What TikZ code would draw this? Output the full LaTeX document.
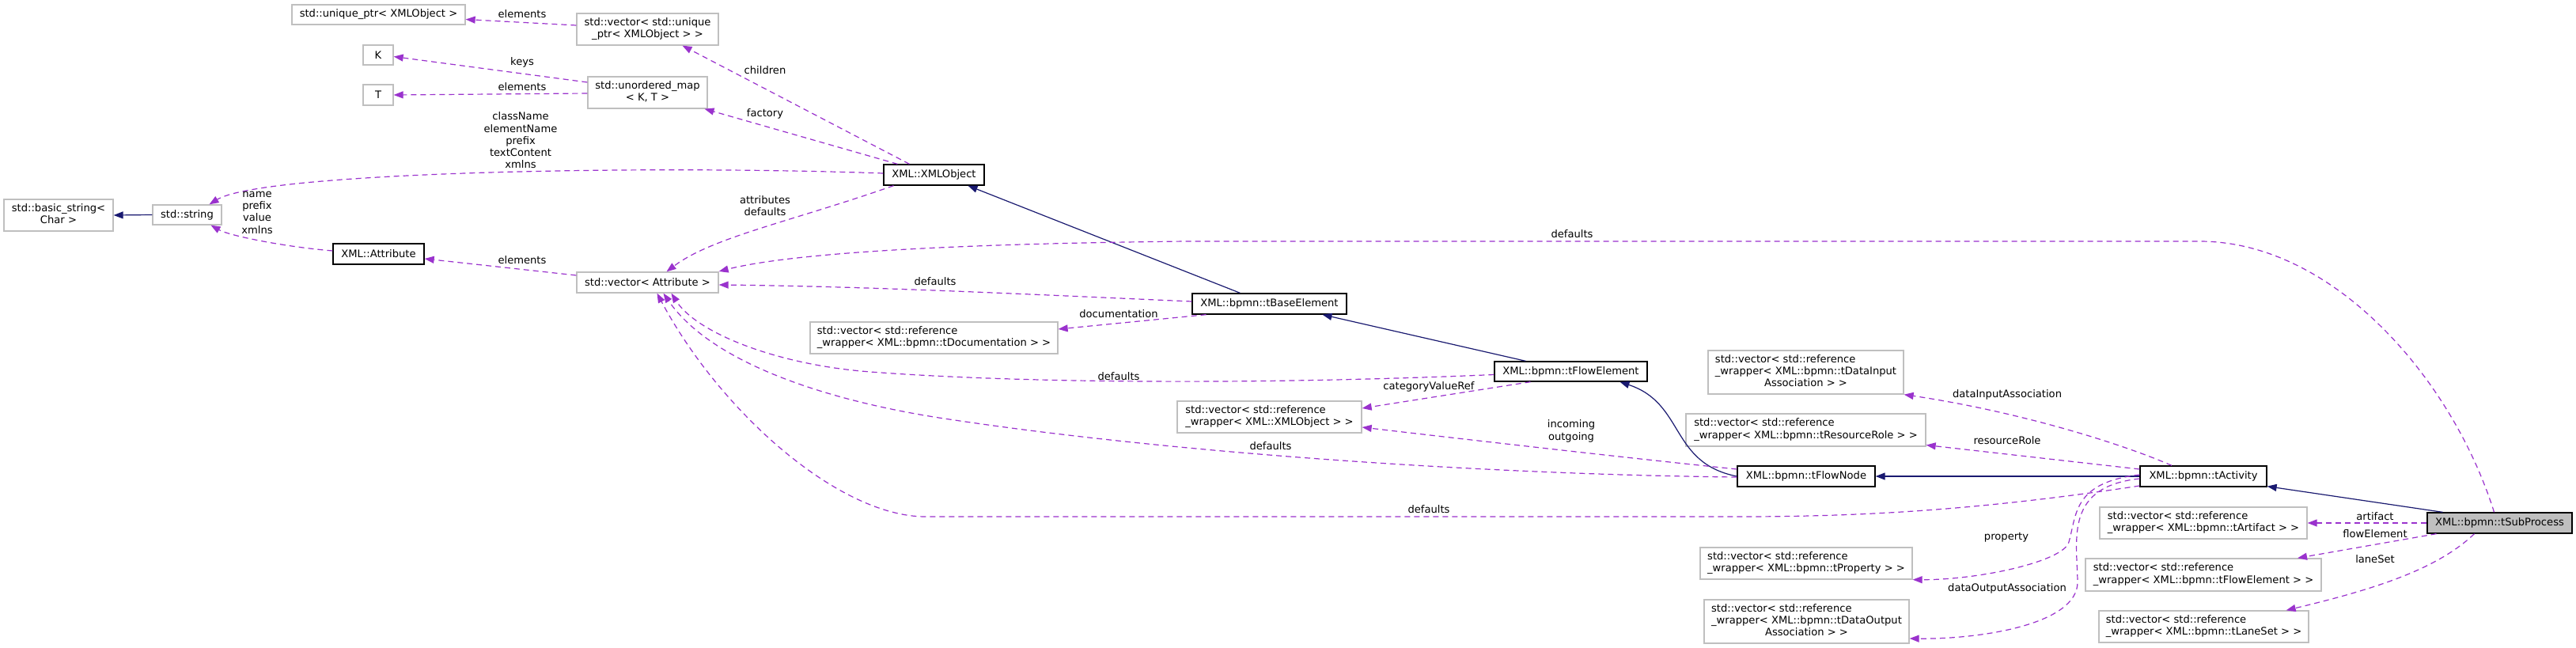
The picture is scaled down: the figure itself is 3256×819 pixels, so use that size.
\documentclass[tikz,border=0pt]{standalone}
\usepackage{fontspec}
\setmainfont{DejaVu Sans}
\usetikzlibrary{arrows.meta,calc}
\definecolor{dorch}{HTML}{9A32CD}
\definecolor{mblue}{HTML}{191970}
\definecolor{lgray}{HTML}{BFBFBF}
\newcommand{\fnt}{\fontsize{13.1}{15.3}\selectfont}
\newcommand{\twol}[2]{\begin{tabular}{@{}l@{}}#1\\\multicolumn{1}{@{}c@{}}{#2}\end{tabular}}
\newcommand{\threel}[3]{\begin{tabular}{@{}l@{}}#1\\#2\\\multicolumn{1}{@{}c@{}}{#3}\end{tabular}}
\begin{document}
\begin{tikzpicture}[x=1pt,y=-1pt,
  box/.style={draw=lgray, line width=1.3pt, fill=white, rectangle, inner sep=0pt, font=\fnt},
  cls/.style={box, draw=black},
  cur/.style={cls, fill=lgray},
  dep/.style={draw=dorch, line width=1.2pt, dash pattern=on 7pt off 5pt, -{Triangle[length=12pt,width=9pt]}},
  inh/.style={draw=mblue, line width=1.2pt, -{Triangle[length=12pt,width=9pt]}},
  lab/.style={inner sep=0pt, font=\fnt, align=center}]
\useasboundingbox[fill=white] (0,0) rectangle (3256,819);

% nodes
\node[box, minimum width=219pt, minimum height=25pt] (uptr) at (478.5,18.5) {std::unique\_ptr< XMLObject >};
\node[box, minimum width=179pt, minimum height=40pt] (vuptr) at (818.5,37) {\twol{std::vector< std::unique}{\_ptr< XMLObject > >}};
\node[box, minimum width=38pt, minimum height=25pt] (K) at (478,69.5) {K};
\node[box, minimum width=38pt, minimum height=26pt] (T) at (478,120) {T};
\node[box, minimum width=151pt, minimum height=40pt] (umap) at (818.5,117) {\twol{std::unordered\_map}{< K, T >}};
\node[cls, minimum width=127pt, minimum height=26pt] (xmlobj) at (1180.5,221) {XML::XMLObject};
\node[box, minimum width=138pt, minimum height=40pt] (bstr) at (74,272) {\twol{std::basic\_string<}{Char >}};
\node[box, minimum width=87pt, minimum height=25pt] (str) at (236.5,271.5) {std::string};
\node[cls, minimum width=115pt, minimum height=26pt] (attr) at (478.5,321) {XML::Attribute};
\node[box, minimum width=179pt, minimum height=26pt] (vattr) at (818.5,357) {std::vector< Attribute >};
\node[cls, minimum width=195pt, minimum height=26pt] (tbase) at (1604.5,384) {XML::bpmn::tBaseElement};
\node[box, minimum width=313pt, minimum height=40pt] (vdoc) at (1180.5,427) {\twol{std::vector< std::reference}{\_wrapper< XML::bpmn::tDocumentation > >}};
\node[cls, minimum width=193pt, minimum height=25pt] (tflowel) at (1985.5,469.5) {XML::bpmn::tFlowElement};
\node[box, minimum width=233pt, minimum height=40pt] (vxref) at (1604.5,527) {\twol{std::vector< std::reference}{\_wrapper< XML::XMLObject > >}};
\node[cls, minimum width=174pt, minimum height=26pt] (tflownode) at (2283,602) {XML::bpmn::tFlowNode};
\node[cls, minimum width=160pt, minimum height=26pt] (tact) at (2785,602) {XML::bpmn::tActivity};
\node[cur, minimum width=183pt, minimum height=26pt] (tsub) at (3159.5,661) {XML::bpmn::tSubProcess};
\node[box, minimum width=247pt, minimum height=55pt] (vdin) at (2282.5,470.5) {\threel{std::vector< std::reference}{\_wrapper< XML::bpmn::tDataInput}{Association > >}};
\node[box, minimum width=303pt, minimum height=41pt] (vres) at (2282.5,543.5) {\twol{std::vector< std::reference}{\_wrapper< XML::bpmn::tResourceRole > >}};
\node[box, minimum width=268pt, minimum height=40pt] (vprop) at (2283,712) {\twol{std::vector< std::reference}{\_wrapper< XML::bpmn::tProperty > >}};
\node[box, minimum width=259pt, minimum height=55pt] (vdout) at (2283.5,785.5) {\threel{std::vector< std::reference}{\_wrapper< XML::bpmn::tDataOutput}{Association > >}};
\node[box, minimum width=262pt, minimum height=40pt] (vart) at (2785,661) {\twol{std::vector< std::reference}{\_wrapper< XML::bpmn::tArtifact > >}};
\node[box, minimum width=298pt, minimum height=41pt] (vfel) at (2785,726.5) {\twol{std::vector< std::reference}{\_wrapper< XML::bpmn::tFlowElement > >}};
\node[box, minimum width=265pt, minimum height=40pt] (vlane) at (2785.5,792) {\twol{std::vector< std::reference}{\_wrapper< XML::bpmn::tLaneSet > >}};

% inheritance
\draw[inh] (str.west) -- (bstr.east);
\draw[inh] ($(tbase.north)+(-37,0)$) -- ($(xmlobj.south)+(43,0)$);
\draw[inh] ($(tflowel.north)+(-57,0)$) -- ($(tbase.south)+(67,0)$);
\draw[inh] (tflownode.west) .. controls (2110,585) and (2130,510) .. ($(tflowel.south)+(62,0)$);
\draw[inh] (tact.west) -- (tflownode.east);
\draw[inh] ($(tsub.north)+(-72,0)$) -- ($(tact.south east)+(0,-1)$);

% dependencies
\draw[dep] ($(vuptr.west)+(0,-5)$) -- ($(uptr.east)+(0,6)$);
\draw[dep] ($(xmlobj.north)+(-31,0)$) -- ($(vuptr.south)+(44,0)$);
\draw[dep] ($(xmlobj.north)+(-46,0)$) -- ($(umap.south)+(72,0)$);
\draw[dep] ($(umap.west)+(0,-13)$) -- ($(K.east)+(0,2)$);
\draw[dep] ($(umap.west)+(0,1)$) -- (T.east);
\draw[dep] ($(xmlobj.west)+(0,-2)$) .. controls (800,208) and (330,218) .. ($(str.north)+(28,0)$);
\draw[dep] ($(attr.west)+(0,-4)$) .. controls (360,312) and (290,298) .. ($(str.south)+(30,0)$);
\draw[dep] ($(vattr.west)+(0,-9)$) -- ($(attr.east)+(0,6)$);
\draw[dep] ($(xmlobj.south)+(-51,0)$) .. controls (1000,280) and (900,300) .. ($(vattr.north)+(24,0)$);
\draw[dep] ($(tsub.north)+(-7,0)$) .. controls (3100,480) and (2950,305) .. (2780,305) -- (1500,305)
   .. controls (1200,308) and (1000,320) .. ($(vattr.east)+(0,-14)$);
\draw[dep] ($(tbase.west)+(0,-3)$) .. controls (1300,372) and (1100,362) .. ($(vattr.east)+(0,3)$);
\draw[dep] ($(tbase.south)+(-80,0)$) -- ($(vdoc.east)+(0,-11)$);
\draw[dep] ($(tflowel.west)+(0,4)$) .. controls (1600,486) and (1300,485) .. (1100,470)
   .. controls (980,461) and (880,420) .. ($(vattr.south)+(30,0)$);
\draw[dep] ($(tflownode.west)+(0,1)$) .. controls (1900,600) and (1500,575) .. (1200,530)
   .. controls (1050,508) and (900,460) .. ($(vattr.south)+(20,0)$);
\draw[dep] ($(tact.west)+(0,12)$) .. controls (2500,645) and (2350,653) .. (2200,653) -- (1170,653)
   .. controls (1060,653) and (910,520) .. ($(vattr.south)+(12,0)$);
\draw[dep] ($(tflowel.south)+(-51,0)$) -- ($(vxref.east)+(0,-11)$);
\draw[dep] ($(tflownode.west)+(0,-9)$) .. controls (2050,578) and (1850,555) .. ($(vxref.east)+(0,13)$);
\draw[dep] ($(tact.north)+(-40,0)$) .. controls (2680,560) and (2550,520) .. (vdin.south east);
\draw[dep] ($(tact.west)+(0,-9)$) -- ($(vres.east)+(0,19)$);
\draw[dep] ($(tact.west)+(0,-2)$) .. controls (2620,610) and (2625,650) .. (2615,685)
   .. controls (2608,710) and (2500,733) .. (vprop.south east);
\draw[dep] ($(tact.west)+(0,3)$) .. controls (2610,615) and (2625,680) .. (2626,735)
   .. controls (2627,790) and (2500,808) .. ($(vdout.east)+(0,21.5)$);
\draw[dep] (tsub.west) -- (vart.east);
\draw[dep] ($(tsub.south)+(-80,0)$) -- ($(vfel.north)+(119,0)$);
\draw[dep] ($(tsub.south)+(-32,0)$) .. controls (3080,720) and (3000,745) .. ($(vlane.north east)+(-29,0)$);

% labels
\node[lab] (l1) at (660,18) {elements};
\node[lab] (l2) at (660,79) {keys};
\node[lab] (l3) at (660,110) {elements};
\node[lab] (l4) at (967,89) {children};
\node[lab] (l5) at (967,144) {factory};
\node[lab] (l6) at (658,177.5) {className\\elementName\\prefix\\textContent\\xmlns};
\node[lab] (l7) at (325,268.5) {name\\prefix\\value\\xmlns};
\node[lab] (l8) at (967,260) {attributes\\defaults};
\node[lab] (l9) at (660,329) {elements};
\node[lab] (l10) at (1182,356) {defaults};
\node[lab] (l11) at (1987,296) {defaults};
\node[lab] (l12) at (1414,397) {documentation};
\node[lab] (l13) at (1414,476) {defaults};
\node[lab] (l14) at (1806,489) {categoryValueRef};
\node[lab] (l15) at (1986,545) {incoming\\outgoing};
\node[lab] (l16) at (1606,564) {defaults};
\node[lab] (l17) at (1806,644) {defaults};
\node[lab] (l18) at (2537,499) {dataInputAssociation};
\node[lab] (l19) at (2537,557) {resourceRole};
\node[lab] (l20) at (2536,679) {property};
\node[lab] (l21) at (2537,744) {dataOutputAssociation};
\node[lab] (l22) at (3002,653) {artifact};
\node[lab] (l23) at (3002,675) {flowElement};
\node[lab] (l24) at (3002,707) {laneSet};
\end{tikzpicture}
\end{document}
